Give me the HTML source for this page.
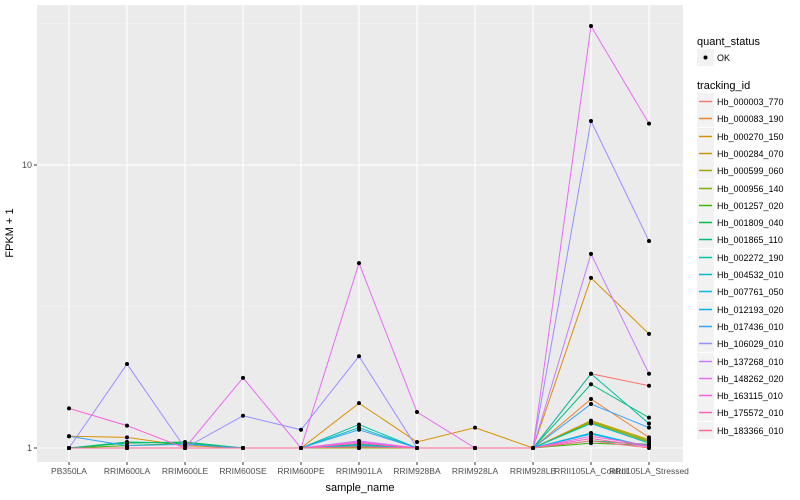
<!DOCTYPE html>
<html><head><meta charset="utf-8"><style>
body{margin:0;background:#fff}
svg{display:block;font-family:"Liberation Sans",sans-serif}
</style></head><body>
<svg id="chart" width="800" height="500" xmlns="http://www.w3.org/2000/svg">
<rect x="0" y="0" width="800" height="500" fill="#fff"/>
<rect x="37" y="5" width="646" height="457" fill="#EBEBEB"/>
<g id="grid"></g><g id="lines"></g><g id="points"></g><g id="axes"></g><g id="legend"></g>
<text x="13" y="233" font-size="11" text-anchor="middle" transform="rotate(-90 13 233)">FPKM + 1</text>
<text x="360" y="491" font-size="11" text-anchor="middle">sample_name</text>
</svg>
<script>
const categories=["PB350LA","RRIM600LA","RRIM600LE","RRIM600SE","RRIM600PE","RRIM901LA","RRIM928BA","RRIM928LA","RRIM928LB","RRII105LA_Control","RRII105LA_Stressed"];
const seriesNames=["Hb_000003_770","Hb_000083_190","Hb_000270_150","Hb_000284_070","Hb_000599_060","Hb_000956_140","Hb_001257_020","Hb_001809_040","Hb_001865_110","Hb_002272_190","Hb_004532_010","Hb_007761_050","Hb_012193_020","Hb_017436_010","Hb_106029_010","Hb_137268_010","Hb_148262_020","Hb_163115_010","Hb_175572_010","Hb_183366_010"];
const seriesColors=["#F8766D","#EA8331","#D89000","#C09B00","#A3A500","#7CAE00","#39B600","#00BB4E","#00BF7D","#00C1A3","#00BFC4","#00BAE0","#00B0F6","#35A2FF","#9590FF","#C77CFF","#E76BF3","#FA62DB","#FF62BC","#FF6C91"];
const s01=[1,1,1,1,1,1,1,1,1,1.83,1.66];
const s02=[1,1,1,1,1,1.03,1,1,1,1.49,1.09];
const s03=[1.1,1.09,1.02,1,1,1.44,1.05,1.18,1,3.99,2.53];
const s04=[1,1,1,1,1,1,1,1,1,1.25,1.07];
const s05=[1,1,1,1,1,1,1,1,1,1.24,1.06];
const s06=[1,1,1,1,1,1.02,1,1,1,1.23,1.05];
const s07=[1,1.02,1.04,1,1,1.01,1,1,1,1.04,1.02];
const s08=[1,1.04,1.05,1,1,1.02,1,1,1,1.06,1.03];
const s09=[1,1.05,1.04,1,1,1.03,1,1,1,1.68,1.28];
const s10=[1,1,1,1,1,1.21,1,1,1,1.83,1.22];
const s11=[1,1,1,1,1,1.18,1,1,1,1.22,1.04];
const s12=[1,1,1,1,1,1.02,1,1,1,1.13,1.01];
const s13=[1,1,1,1,1,1.02,1,1,1,1.12,1.01];
const s14=[1.1,1.02,1.03,1,1,1.16,1,1,1,1.43,1.18];
const s15=[1,1.98,1,1.30,1.16,2.11,1,1,1,14.3,5.39];
const s16=[1,1,1,1,1,1.06,1,1,1,4.85,1.83];
const s17=[1,1,1,1.77,1,4.5,1.34,1,1,31,14];
const s18=[1.38,1.2,1,1,1,1.05,1,1,1,1.1,1.02];
const s19=[1,1,1,1,1,1.04,1,1,1,1.08,1.01];
const s20=[1,1,1,1,1,1.01,1,1,1,1.06,1];
const series=[s01,s02,s03,s04,s05,s06,s07,s08,s09,s10,s11,s12,s13,s14,s15,s16,s17,s18,s19,s20];
const yTicks=[1,10];
const yTickLabels=["1","10"];

const NS="http://www.w3.org/2000/svg";
const x=i=>69+i*58;
const y=v=>448-283*Math.log10(v);
function mk(tag,attrs,parent){const e=document.createElementNS(NS,tag);for(const k in attrs)e.setAttribute(k,attrs[k]);parent.appendChild(e);return e;}
const grid=document.getElementById('grid'),lines=document.getElementById('lines'),pts=document.getElementById('points'),axes=document.getElementById('axes'),leg=document.getElementById('legend');
[Math.sqrt(10),Math.sqrt(1000)].forEach(v=>{const l=mk('line',{x1:37,x2:683,y1:y(v),y2:y(v),stroke:'#F5F5F5','stroke-width':0.6},grid);

});
yTicks.forEach((v,i)=>{const l=mk('line',{x1:37,x2:683,y1:y(v),y2:y(v),stroke:'#fff','stroke-width':1.1},grid);


const t=mk('line',{x1:34,x2:37,y1:y(v),y2:y(v),stroke:'#333'},axes);


const tx=mk('text',{x:32,y:y(v)+3,'font-size':9,'text-anchor':'end',fill:'#4D4D4D'},axes);tx.textContent=yTickLabels[i];

});
categories.forEach((c,i)=>{const l=mk('line',{x1:x(i),x2:x(i),y1:5,y2:462,stroke:'#fff','stroke-width':1.1},grid);


const t=mk('line',{x1:x(i),x2:x(i),y1:462,y2:465,stroke:'#333'},axes);


const tx=mk('text',{x:x(i),y:474,'font-size':8.5,'text-anchor':'middle',fill:'#4D4D4D'},axes);tx.textContent=c;

});
series.forEach((s,k)=>{const p=mk('polyline',{points:s.map((v,i)=>x(i)+','+y(v)).join(' '),fill:'none',stroke:seriesColors[k],'stroke-width':1},lines);


s.forEach((v,i)=>{const c=mk('circle',{cx:x(i),cy:y(v),r:2,fill:'#000'},pts);

});});
let t=mk('text',{x:697,y:45,'font-size':11},leg);t.textContent='quant_status';


let r=mk('rect',{x:697,y:49,width:17,height:17,fill:'#F2F2F2'},leg);


let c=mk('circle',{cx:705.5,cy:57.5,r:2,fill:'#000'},leg);


t=mk('text',{x:717,y:61,'font-size':9},leg);t.textContent='OK';


t=mk('text',{x:697,y:89,'font-size':11},leg);t.textContent='tracking_id';


seriesNames.forEach((n,k)=>{const yy=Math.round(93+k*17.3);
const g=mk('g',{},leg);


mk('rect',{x:697,y:yy,width:17,height:17,fill:'#F2F2F2'},g);
mk('line',{x1:699,x2:712,y1:yy+8.5,y2:yy+8.5,stroke:seriesColors[k],'stroke-width':1.5},g);
const tt=mk('text',{x:717,y:yy+12,'font-size':9},g);tt.textContent=n;});
</script>
</body></html>
